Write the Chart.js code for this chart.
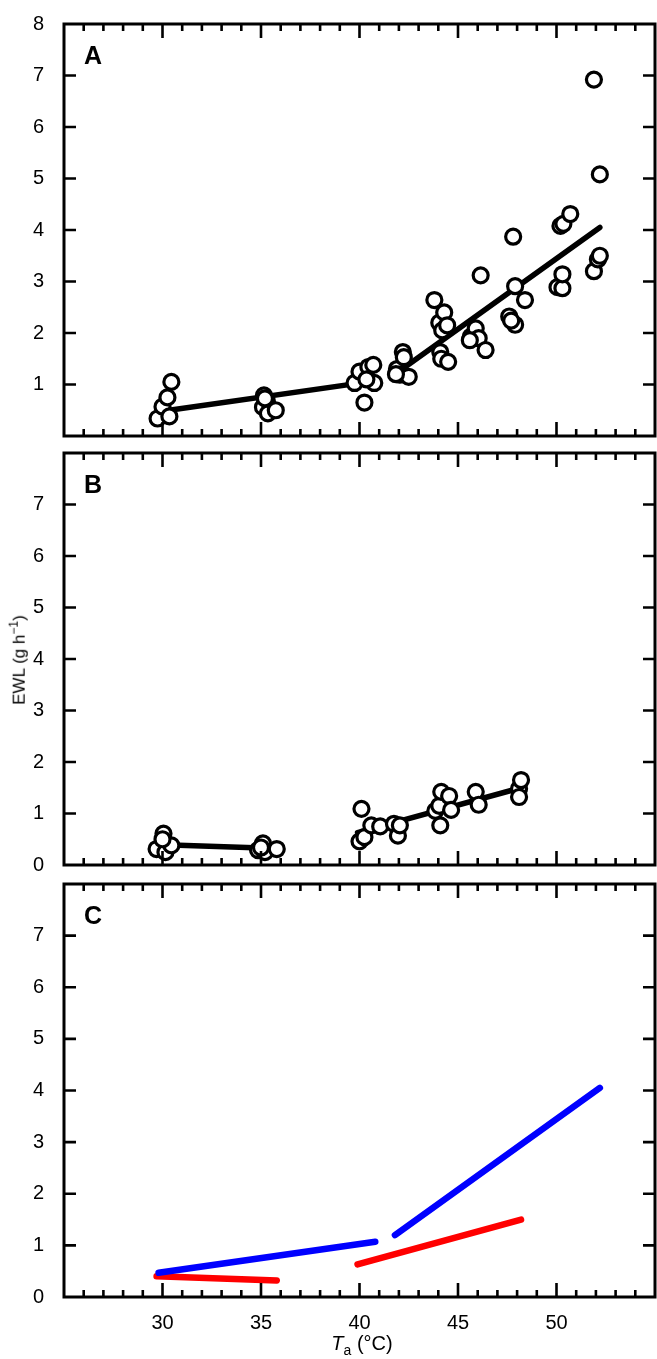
<!DOCTYPE html>
<html><head><meta charset="utf-8">
<script src="https://cdn.jsdelivr.net/npm/chart.js@4"></script>
<style>
body{margin:0;background:#fff;font-family:"Liberation Sans",Arial,sans-serif;overflow:hidden;}
#wrap{position:relative;width:657px;height:1359px;overflow:hidden;}
canvas{position:absolute;left:0;}
.lab{position:absolute;color:#000;font-size:17px;white-space:nowrap;}
</style></head><body><div id="wrap">
<canvas id="cA" style="top:0px" width="657" height="460"></canvas>
<canvas id="cB" style="top:429px" width="657" height="460"></canvas>
<canvas id="cC" style="top:860px" width="657" height="499"></canvas>
<div class="lab" style="left:18px;top:660px;transform:translate(-50%,-50%) rotate(-90deg);">EWL (g h<sup style="font-size:12px">−1</sup>)</div>
<div class="lab" style="left:362px;top:1345px;transform:translate(-50%,-50%);font-size:20px"><i>T</i><sub style="font-size:14px">a</sub> (°C)</div>
</div>
<script>
const xTicks=[30,35,40,45,50];
const aX=[29.75,30.0,30.25,30.45,30.35, 35.15,35.3,35.1,35.35,35.75,35.2, 39.75,40.0,40.25,40.45,40.7,40.75,40.35, 41.9,42.05,42.2,42.25,42.5,41.85, 43.8,44.05,44.3,44.2,44.45,44.1,44.15,44.5, 45.65,45.9,46.05,46.15,46.4,45.6, 47.6,47.8,47.9,47.9,48.4,47.7, 50.05,50.3,50.3,50.2,50.35,50.7, 51.9,52.2,51.9,52.1,52.2];
const aY=[0.34,0.57,0.75,1.05,0.38, 0.79,0.67,0.56,0.44,0.5,0.73, 1.03,1.25,0.65,1.34,1.38,1.03,1.1, 1.3,1.19,1.63,1.53,1.15,1.2, 2.64,2.2,2.4,2.05,2.15,1.63,1.5,1.44, 1.93,2.09,1.9,3.12,1.67,1.86, 2.32,3.87,2.91,2.16,2.64,2.24, 2.89,2.87,3.14,4.08,4.12,4.31, 6.92,5.08,3.2,3.43,3.5];
const bX=[29.7,30.05,30.15,30.45,30.0, 34.85,35.1,35.2,35.8,35.0, 40.0,40.1,40.25,40.6,41.05,41.75,41.95,42.05, 43.85,44.05,44.15,44.1,44.55,44.65, 45.9,46.05, 48.1,48.2,48.1];
const bY=[0.31,0.61,0.25,0.38,0.5, 0.29,0.42,0.25,0.31,0.34, 0.46,1.09,0.54,0.77,0.75,0.8,0.57,0.77, 1.05,1.15,1.42,0.77,1.34,1.07, 1.42,1.17, 1.48,1.65,1.32];
const aFit1X=[29.8,40.8], aFit1Y=[0.47,1.07];
const aFit2X=[41.8,52.2], aFit2Y=[1.2,4.05];
const bFit1X=[29.7,35.8], bFit1Y=[0.4,0.32];
const bFit2X=[39.9,48.2], bFit2Y=[0.63,1.5];

const pts=(xs,ys)=>xs.map((x,i)=>({x,y:ys[i]}));
function lineDs(xs,ys,color,w){return {type:'line',data:pts(xs,ys),borderColor:color,borderWidth:w,pointRadius:0,borderCapStyle:'round',fill:false,order:2};}
function scatDs(xs,ys){return {type:'scatter',data:pts(xs,ys),pointRadius:7.5,pointBorderWidth:3.2,pointBorderColor:'#000',pointBackgroundColor:'#fff',order:1};}

const frame={id:'frame',afterDraw(ch){
  const c=ch.ctx,a=ch.chartArea,xs=ch.scales.x,ys=ch.scales.y;
  c.save();c.strokeStyle='#000';c.lineWidth=2.6;c.lineCap='butt';
  c.beginPath();
  for(let v=26;v<=54;v++){const px=xs.getPixelForValue(v);const L=(v%5===0)?14:7;
    c.moveTo(px,a.bottom);c.lineTo(px,a.bottom-L);c.moveTo(px,a.top);c.lineTo(px,a.top+L);}
  for(let v=1;v<=7;v++){const py=ys.getPixelForValue(v);
    c.moveTo(a.left,py);c.lineTo(a.left+12,py);c.moveTo(a.right,py);c.lineTo(a.right-12,py);}
  c.stroke();
  c.lineWidth=3;c.strokeRect(a.left,a.top,a.right-a.left,a.bottom-a.top);
  c.fillStyle='#000';c.font='bold 25px "Liberation Sans",Arial';c.textBaseline='middle';
  c.fillText(ch.options.plugins.panel,a.left+20,a.top+33);
  c.restore();}};

function make(id,label,datasets,showX,bottomH,skip){
  new Chart(document.getElementById(id),{data:{datasets},plugins:[frame],
    options:{responsive:false,animation:false,events:[],devicePixelRatio:1,
      layout:{autoPadding:false,padding:{top:20,right:2,left:0,bottom:0}},
      plugins:{legend:{display:false},tooltip:{enabled:false},panel:label},
      scales:{
        x:{type:'linear',min:25,max:55,grid:{display:false},border:{display:false},
          afterFit(s){s.height=bottomH;s.paddingRight=0;s.paddingLeft=0;},
          afterBuildTicks(s){s.ticks=xTicks.map(v=>({value:v}));},
          ticks:{display:true,maxRotation:0,minRotation:0,color:showX?'#000':'rgba(0,0,0,0)',font:{size:20,family:'"Liberation Sans",Arial'},padding:6}},
        y:{min:0,max:8,grid:{display:false},border:{display:false},
          afterFit(s){s.width=64;},
          ticks:{stepSize:1,color:'#000',font:{size:20,family:'"Liberation Sans",Arial'},padding:12,
            callback:v=>(v===skip?'':v)}}}}});
}
make('cA','A',[scatDs(aX,aY),lineDs(aFit1X,aFit1Y,'#000',5.5),lineDs(aFit2X,aFit2Y,'#000',5.5)],false,23,0);
make('cB','B',[scatDs(bX,bY),lineDs(bFit1X,bFit1Y,'#000',5.5),lineDs(bFit2X,bFit2Y,'#000',5.5)],false,23,8);
make('cC','C',[lineDs(aFit1X,aFit1Y,'#0000ff',6.5),lineDs(aFit2X,aFit2Y,'#0000ff',6.5),lineDs(bFit1X,bFit1Y,'#ff0000',6.5),lineDs(bFit2X,bFit2Y,'#ff0000',6.5)],true,62,8);
</script></body></html>
